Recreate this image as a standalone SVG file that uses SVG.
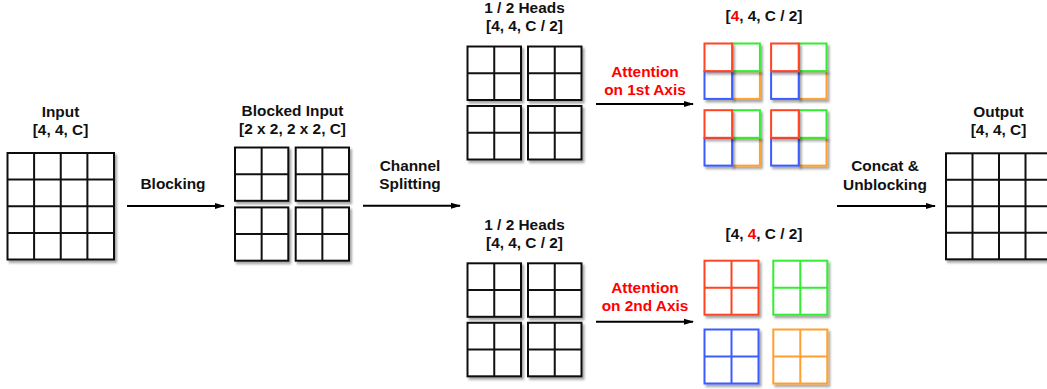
<svg xmlns="http://www.w3.org/2000/svg" width="1047" height="389" viewBox="0 0 1047 389">
<defs>
<filter id="sh" x="-10%" y="-10%" width="130%" height="130%">
<feDropShadow dx="2" dy="2.5" stdDeviation="1.3" flood-color="#000" flood-opacity="0.35"/>
</filter>
<marker id="ah" markerWidth="10" markerHeight="8" refX="9" refY="4" orient="auto" markerUnits="userSpaceOnUse">
<path d="M0,1 L10,4 L0,7 Z" fill="#000"/>
</marker>
</defs>
<style>
text{font-family:"Liberation Sans",Arial,sans-serif;font-weight:bold;font-size:15.4px;fill:#111;text-anchor:middle}
.red{fill:#ff0000}
.g{fill:#fff;stroke:#111;stroke-width:2;filter:url(#sh)}
.gl{stroke:#111;stroke-width:2;fill:none}
.c{fill:#fff;stroke-width:2;filter:url(#sh)}
.r{stroke:#ff4422}.gr{stroke:#33ee33}.b{stroke:#3d5cff}.o{stroke:#ffa030}
.conn{stroke:#000;stroke-width:2;fill:none;marker-end:url(#ah)}
</style>

<g id="input">
<text x="60.5" y="117">Input</text>
<text x="60.5" y="135">[4, 4, C]</text>
<rect class="g" x="7.5" y="153" width="106.5" height="106.5"/>
<path class="gl" d="M34.1,153V259.5M60.75,153V259.5M87.4,153V259.5M7.5,179.6H114M7.5,206.25H114M7.5,232.9H114"/>
</g>

<g id="blocked-input">
<text x="292.5" y="116">Blocked Input</text>
<text x="292.5" y="134">[2 x 2, 2 x 2, C]</text>
<g id="bi-blocks">
<rect class="g" x="235" y="147.5" width="53.3" height="53.3"/><path class="gl" d="M261.65,147.5v53.3M235,174.15h53.3"/>
<rect class="g" x="295.7" y="147.5" width="53.3" height="53.3"/><path class="gl" d="M322.35,147.5v53.3M295.7,174.15h53.3"/>
<rect class="g" x="235" y="207.4" width="53.3" height="53.3"/><path class="gl" d="M261.65,207.4v53.3M235,234.05h53.3"/>
<rect class="g" x="295.7" y="207.4" width="53.3" height="53.3"/><path class="gl" d="M322.35,207.4v53.3M295.7,234.05h53.3"/>
</g>
</g>

<g id="heads-top">
<text x="524.5" y="13">1 / 2 Heads</text>
<text x="524.5" y="31">[4, 4, C / 2]</text>
<rect class="g" x="467.5" y="46.5" width="53.5" height="53.5"/><path class="gl" d="M494.25,46.5v53.5M467.5,73.25h53.5"/>
<rect class="g" x="528" y="46.5" width="53.5" height="53.5"/><path class="gl" d="M554.75,46.5v53.5M528,73.25h53.5"/>
<rect class="g" x="467.5" y="106" width="53.5" height="53.5"/><path class="gl" d="M494.25,106v53.5M467.5,132.75h53.5"/>
<rect class="g" x="528" y="106" width="53.5" height="53.5"/><path class="gl" d="M554.75,106v53.5M528,132.75h53.5"/>
</g>

<g id="heads-bottom">
<text x="524.5" y="229.5">1 / 2 Heads</text>
<text x="524.5" y="247.5">[4, 4, C / 2]</text>
<rect class="g" x="467.5" y="263.3" width="53.5" height="53.5"/><path class="gl" d="M494.25,263.3v53.5M467.5,290.05h53.5"/>
<rect class="g" x="528" y="263.3" width="53.5" height="53.5"/><path class="gl" d="M554.75,263.3v53.5M528,290.05h53.5"/>
<rect class="g" x="467.5" y="322.8" width="53.5" height="53.5"/><path class="gl" d="M494.25,322.8v53.5M467.5,349.55h53.5"/>
<rect class="g" x="528" y="322.8" width="53.5" height="53.5"/><path class="gl" d="M554.75,322.8v53.5M528,349.55h53.5"/>
</g>

<g id="axis1-result">
<text x="764" y="21">[<tspan class="red">4</tspan>, 4, C / 2]</text>
<g>
<rect class="c o" x="732.3" y="71.3" width="27.6" height="27.6"/>
<rect class="c b" x="704.5" y="71.3" width="27.6" height="27.6"/>
<rect class="c gr" x="732.3" y="43.5" width="27.6" height="27.6"/>
<rect class="c r" x="704.5" y="43.5" width="27.6" height="27.6"/>
</g>
<g>
<rect class="c o" x="798.9" y="71.3" width="27.6" height="27.6"/>
<rect class="c b" x="771.1" y="71.3" width="27.6" height="27.6"/>
<rect class="c gr" x="798.9" y="43.5" width="27.6" height="27.6"/>
<rect class="c r" x="771.1" y="43.5" width="27.6" height="27.6"/>
</g>
<g>
<rect class="c o" x="732.3" y="138" width="27.6" height="27.6"/>
<rect class="c b" x="704.5" y="138" width="27.6" height="27.6"/>
<rect class="c gr" x="732.3" y="110.2" width="27.6" height="27.6"/>
<rect class="c r" x="704.5" y="110.2" width="27.6" height="27.6"/>
</g>
<g>
<rect class="c o" x="798.9" y="138" width="27.6" height="27.6"/>
<rect class="c b" x="771.1" y="138" width="27.6" height="27.6"/>
<rect class="c gr" x="798.9" y="110.2" width="27.6" height="27.6"/>
<rect class="c r" x="771.1" y="110.2" width="27.6" height="27.6"/>
</g>
</g>

<g id="axis2-result">
<text x="764" y="239">[4, <tspan class="red">4</tspan>, C / 2]</text>
<rect class="c r" x="704.5" y="260.7" width="54" height="54"/><path class="gl r" d="M731.5,260.7v54M704.5,287.7h54"/>
<rect class="c gr" x="773.3" y="260.7" width="54" height="54"/><path class="gl gr" d="M800.3,260.7v54M773.3,287.7h54"/>
<rect class="c b" x="704.5" y="329.5" width="54" height="54"/><path class="gl b" d="M731.5,329.5v54M704.5,356.5h54"/>
<rect class="c o" x="773.3" y="329.5" width="54" height="54"/><path class="gl o" d="M800.3,329.5v54M773.3,356.5h54"/>
</g>

<g id="output">
<text x="998.5" y="117">Output</text>
<text x="998.5" y="135">[4, 4, C]</text>
<rect class="g" x="946" y="153.3" width="106" height="106"/>
<path class="gl" d="M972.5,153.3V259.3M999,153.3V259.3M1025.5,153.3V259.3M946,179.8H1052M946,206.3H1052M946,232.8H1052"/>
</g>

<g id="connectors">
<line class="conn" x1="127" y1="206" x2="224" y2="206"/>
<line class="conn" x1="363" y1="205.7" x2="460" y2="205.7"/>
<line class="conn" x1="596" y1="104" x2="693" y2="104"/>
<line class="conn" x1="596" y1="321.7" x2="693" y2="321.7"/>
<line class="conn" x1="837" y1="206" x2="935" y2="206"/>
<text x="173" y="189">Blocking</text>
<text x="410" y="171">Channel</text>
<text x="410" y="189">Splitting</text>
<text class="red" x="645" y="77">Attention</text>
<text class="red" x="645" y="95">on 1st Axis</text>
<text class="red" x="645" y="293">Attention</text>
<text class="red" x="645" y="310.5">on 2nd Axis</text>
<text x="885" y="171">Concat &amp;</text>
<text x="885" y="190">Unblocking</text>
</g>
</svg>
